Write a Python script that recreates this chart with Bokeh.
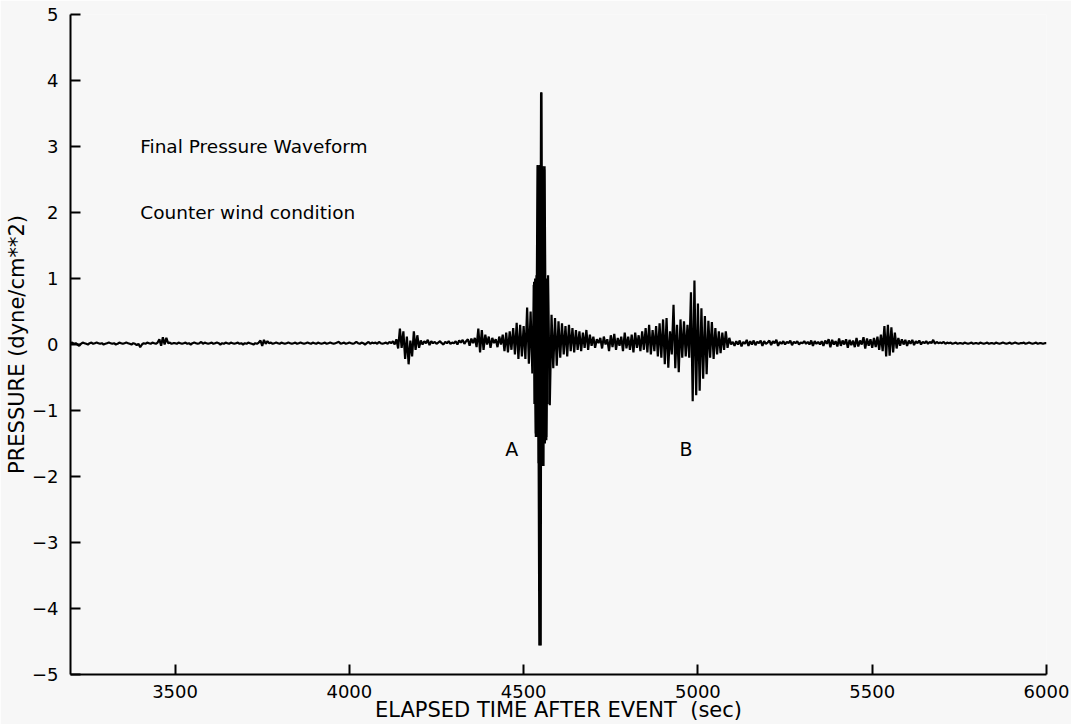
from bokeh.plotting import figure
from bokeh.models import Range1d, FixedTicker, Label, CustomJSTickFormatter
from bokeh.embed import file_html
from bokeh.resources import INLINE

# sampling of the trace: first sample time and spacing (sec)
t_first = 3200
t_step = 5

# pressure (dyne/cm**2), one row per 100 s
pressure = [
    # 3200
    0.02, 0.03, 0.01, 0.02, 0.00, -0.02, 0.01, 0.03, 0.02, 0.01, 0.00, 0.02, 0.03, 0.01, 0.02, 0.03, 0.02, 0.01, 0.02, 0.00,
    # 3300
    0.01, 0.02, 0.03, 0.02, 0.01, 0.02, 0.00, 0.01, 0.03, 0.02, 0.01, 0.02, 0.03, 0.02, 0.01, 0.00, 0.02, 0.01, -0.01, 0.01,
    # 3400
    -0.04, 0.00, 0.02, 0.01, 0.03, 0.02, 0.01, 0.03, 0.02, 0.01, 0.03, 0.08, -0.02, 0.11, 0.00, 0.10, 0.02, 0.03, 0.01, 0.02,
    # 3500
    0.02, 0.01, 0.03, 0.02, 0.01, 0.02, 0.03, 0.01, 0.02, 0.00, 0.02, 0.03, 0.02, 0.01, 0.02, 0.04, 0.01, 0.03, 0.02, 0.01,
    # 3600
    0.02, 0.03, 0.01, 0.02, 0.03, 0.02, 0.00, 0.02, 0.01, 0.03, 0.02, 0.01, 0.03, 0.02, 0.01, 0.02, 0.03, 0.01, 0.02, 0.00,
    # 3700
    0.02, 0.01, 0.03, 0.02, 0.01, 0.00, 0.02, 0.01, 0.03, 0.06, -0.02, 0.07, 0.01, 0.05, 0.02, 0.03, 0.01, 0.02, 0.03, 0.02,
    # 3800
    0.01, 0.03, 0.02, 0.01, 0.02, 0.03, 0.02, 0.01, 0.02, 0.03, 0.01, 0.02, 0.03, 0.02, 0.01, 0.02, 0.03, 0.02, 0.01, 0.03,
    # 3900
    0.02, 0.01, 0.03, 0.02, 0.01, 0.02, 0.03, 0.01, 0.02, 0.03, 0.02, 0.01, 0.02, 0.03, 0.04, 0.01, 0.02, 0.03, 0.01, 0.02,
    # 4000
    0.03, 0.02, 0.01, 0.02, 0.04, 0.02, 0.01, 0.03, 0.02, 0.00, 0.02, 0.04, 0.01, 0.03, 0.02, 0.03, 0.01, 0.04, 0.02, 0.01,
    # 4100
    0.02, 0.03, 0.01, 0.04, 0.02, 0.05, 0.00, 0.08, -0.06, 0.24, -0.05, 0.20, -0.22, 0.12, -0.30, 0.06, -0.18, 0.20, -0.08, 0.14,
    # 4200
    -0.05, 0.06, 0.00, 0.05, 0.02, 0.07, -0.01, 0.05, 0.02, 0.04, 0.01, 0.03, 0.05, 0.02, 0.00, 0.04, 0.02, 0.05, 0.01, 0.03,
    # 4300
    0.02, 0.05, 0.00, 0.06, 0.03, 0.07, 0.01, 0.05, 0.08, -0.02, 0.09, 0.02, 0.10, -0.04, 0.24, -0.12, 0.22, -0.08, 0.15, 0.00,
    # 4400
    0.12, -0.05, 0.10, 0.02, 0.08, -0.04, 0.12, 0.00, 0.15, -0.10, 0.18, -0.12, 0.20, -0.08, 0.25, -0.15, 0.33, -0.22, 0.30, -0.18,
    # 4500
    0.28, -0.22, 0.56, -0.29, 0.50, -0.44, 0.95, -1.40, 2.72, -4.56, 3.82, -1.84, 2.70, -1.45, 1.05, -0.92, 0.45, -0.36, 0.40, -0.32,
    # 4600
    0.35, -0.20, 0.32, -0.15, 0.28, -0.18, 0.30, -0.10, 0.25, -0.12, 0.22, -0.08, 0.20, -0.10, 0.18, -0.05, 0.22, -0.08, 0.15, -0.02,
    # 4700
    0.12, -0.05, 0.08, 0.02, 0.10, -0.06, 0.12, 0.00, 0.08, -0.10, 0.14, -0.04, 0.16, -0.08, 0.10, -0.02, 0.12, -0.10, 0.18, -0.06,
    # 4800
    0.12, -0.08, 0.15, -0.12, 0.18, -0.05, 0.14, -0.10, 0.20, -0.08, 0.25, -0.12, 0.30, -0.15, 0.22, -0.10, 0.28, -0.18, 0.32, -0.20,
    # 4900
    0.38, -0.30, 0.40, -0.35, 0.20, -0.15, 0.60, -0.36, 0.30, -0.42, 0.38, -0.20, 0.35, -0.18, 0.30, -0.20, 0.79, -0.86, 0.97, -0.77,
    # 5000
    0.62, -0.70, 0.55, -0.52, 0.43, -0.45, 0.36, -0.20, 0.34, -0.22, 0.25, -0.15, 0.20, -0.13, 0.18, -0.08, 0.20, -0.05, 0.10, 0.00,
    # 5100
    0.04, -0.02, 0.05, 0.00, 0.06, -0.03, 0.04, 0.01, 0.07, -0.02, 0.05, 0.00, 0.06, -0.01, 0.04, 0.02, 0.06, -0.02, 0.05, 0.01,
    # 5200
    0.03, 0.06, -0.01, 0.05, 0.02, 0.07, -0.02, 0.04, 0.01, 0.05, 0.00, 0.04, 0.02, 0.06, -0.01, 0.04, 0.02, 0.05, 0.00, 0.03,
    # 5300
    0.02, 0.05, 0.01, 0.04, 0.00, 0.06, -0.02, 0.05, 0.01, 0.04, 0.00, 0.05, -0.02, 0.06, 0.01, 0.08, -0.04, 0.07, 0.00, 0.05,
    # 5400
    -0.03, 0.09, -0.02, 0.06, 0.00, 0.08, -0.05, 0.07, -0.01, 0.06, -0.04, 0.10, -0.03, 0.06, 0.00, 0.11, -0.06, 0.09, -0.02, 0.08,
    # 5500
    -0.05, 0.10, -0.04, 0.12, -0.08, 0.15, -0.10, 0.28, -0.18, 0.30, -0.17, 0.26, -0.12, 0.18, -0.06, 0.10, -0.02, 0.08, 0.00, 0.07,
    # 5600
    -0.02, 0.06, 0.01, 0.07, -0.01, 0.05, 0.02, 0.06, 0.00, 0.04, 0.02, 0.05, 0.01, 0.04, 0.02, 0.07, 0.01, 0.04, 0.02, 0.03,
    # 5700
    0.02, 0.04, 0.01, 0.03, 0.02, 0.03, 0.01, 0.02, 0.03, 0.01, 0.02, 0.02, 0.01, 0.03, 0.02, 0.01, 0.02, 0.03, 0.01, 0.02,
    # 5800
    0.02, 0.01, 0.03, 0.02, 0.01, 0.02, 0.03, 0.01, 0.02, 0.02, 0.01, 0.03, 0.02, 0.01, 0.02, 0.03, 0.02, 0.01, 0.02, 0.03,
    # 5900
    0.01, 0.02, 0.03, 0.02, 0.01, 0.02, 0.02, 0.03, 0.01, 0.02, 0.03, 0.02, 0.01, 0.02, 0.03, 0.01, 0.02, 0.02, 0.01, 0.02,
    # 6000
    0.02,
]
time = [t_first + i * t_step for i in range(len(pressure))]

# finer reading of the main arrival (A), sampled every 2 s
burst_time = [4529, 4531, 4533, 4535, 4537, 4539, 4541, 4543, 4545, 4547, 4549,
              4551, 4553, 4555, 4557, 4559, 4561, 4563, 4565, 4567, 4569]
burst_pressure = [0.90, -0.90, 1.00, -1.35, 1.05, -1.40, 2.70, -1.80, 2.72, -1.84, -4.56,
                  3.82, -1.80, 2.70, -1.84, 2.65, -1.50, 1.00, -1.40, 1.00, -0.90]

x_ticks = [3500, 4000, 4500, 5000, 5500, 6000]
y_ticks = [-5, -4, -3, -2, -1, 0, 1, 2, 3, 4, 5]

note_texts = ["Final Pressure Waveform", "Counter wind condition"]
note_x = [3400, 3400]
note_y = [3.0, 2.0]
mark_texts = ["A", "B"]
mark_x = [4466, 4966]
mark_y = [-1.58, -1.58]

x_title = "ELAPSED TIME AFTER EVENT \u00a0(sec)"
y_title = "PRESSURE (dyne/cm**2)"

FONT = "DejaVu Sans"
BG = "#f7f7f7"

p = figure(width=1071, height=724, output_backend="svg", toolbar_location=None,
           x_range=Range1d(3200, 6000), y_range=Range1d(-5, 5),
           min_border_left=70, min_border_right=25, min_border_top=14, min_border_bottom=49,
           background_fill_color=BG, border_fill_color=BG, outline_line_color=None)
p.grid.visible = False

p.line(time, pressure, line_color="black", line_width=2.2)
p.line(burst_time, burst_pressure, line_color="black", line_width=2.2)

for ax in (p.xaxis[0], p.yaxis[0]):
    ax.axis_line_width = 2
    ax.axis_line_color = "black"
    ax.major_tick_line_width = 2
    ax.major_tick_line_color = "black"
    ax.major_tick_in = 10
    ax.major_tick_out = 0
    ax.minor_tick_line_color = None
    ax.major_label_text_font = FONT
    ax.major_label_text_font_size = "18px"
    ax.major_label_text_color = "black"
    ax.axis_label_text_font = FONT
    ax.axis_label_text_font_size = "21px"
    ax.axis_label_text_font_style = "normal"
    ax.axis_label_text_color = "black"

p.xaxis.ticker = FixedTicker(ticks=x_ticks)
p.yaxis.ticker = FixedTicker(ticks=y_ticks)
p.yaxis.formatter = CustomJSTickFormatter(code="return String(tick).replace('-', '\u2212');")
p.xaxis.axis_label = x_title
p.yaxis.axis_label = y_title
p.xaxis.major_label_standoff = 10
p.xaxis.axis_label_standoff = -3
p.yaxis.major_label_standoff = 12
p.yaxis.axis_label_standoff = 0

for txt, x, y in zip(note_texts, note_x, note_y):
    p.add_layout(Label(x=x, y=y, text=txt, text_font=FONT, text_font_size="18.5px",
                       text_color="black", text_baseline="middle", text_align="left"))
for txt, x, y in zip(mark_texts, mark_x, mark_y):
    p.add_layout(Label(x=x, y=y, text=txt, text_font=FONT, text_font_size="19px",
                       text_color="black", text_baseline="middle", text_align="center"))

open("out.html", "w").write(file_html(p, INLINE))
